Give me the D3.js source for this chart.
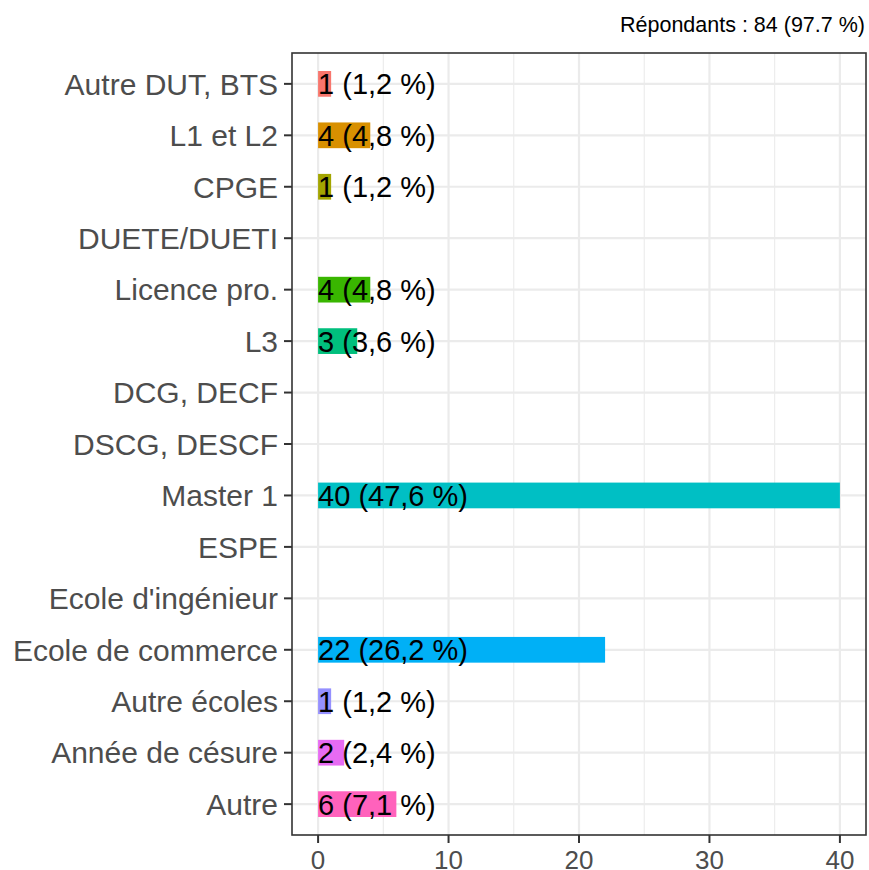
<!DOCTYPE html>
<html>
<head>
<meta charset="utf-8">
<script src="https://cdn.jsdelivr.net/npm/d3@7"></script>
<style>
  html, body { margin: 0; padding: 0; background: #ffffff; }
  svg { display: block; }
</style>
</head>
<body>
<svg id="chart" width="869" height="870"></svg>
<script>
// ---- data ----
const categories = ["Autre DUT, BTS", "L1 et L2", "CPGE", "DUETE/DUETI", "Licence pro.", "L3",
  "DCG, DECF", "DSCG, DESCF", "Master 1", "ESPE", "Ecole d'ingénieur", "Ecole de commerce",
  "Autre écoles", "Année de césure", "Autre"];
const counts = [1, 4, 1, 0, 4, 3, 0, 0, 40, 0, 0, 22, 1, 2, 6];
const totalRespondents = 84;
const respondentShare = "97.7";
const barColors = ["#F8766D", "#D89000", "#A3A500", "#39B600", "#00BF7D", "#00BFC4",
  "#00B0F6", "#9590FF", "#E76BF3", "#FF62BC"];
const xTicks = [0, 10, 20, 30, 40];
const xMinorTicks = [5, 15, 25, 35];

// ---- layout ----
const svg = d3.select("#chart");
const panel = { left: 292, right: 866, top: 53, bottom: 835 };
const FONT = "Liberation Sans, Arial, sans-serif";

const x = d3.scaleLinear().domain([-2, 42]).range([panel.left, panel.right]);
// discrete axis with ggplot-like expansion (0.6 unit each side)
const y = d3.scalePoint().domain(categories)
  .range([panel.top, panel.bottom]).padding(0.6);
const step = y.step();
const barH = step * 0.5;

// colour for non-zero categories in order
const nonZero = categories.filter((c, i) => counts[i] > 0);
const color = d3.scaleOrdinal().domain(nonZero).range(barColors);

const fmtPct = v => (Math.round(v * 1000) / 10).toFixed(1).replace(".", ",");

// ---- panel background & grid ----
svg.append("rect").attr("x", panel.left).attr("y", panel.top)
  .attr("width", panel.right - panel.left).attr("height", panel.bottom - panel.top)
  .attr("fill", "#ffffff");

const grid = svg.append("g");
grid.selectAll("line.minor").data(xMinorTicks).join("line")
  .attr("x1", d => x(d)).attr("x2", d => x(d))
  .attr("y1", panel.top).attr("y2", panel.bottom)
  .attr("stroke", "#EBEBEB").attr("stroke-width", 1.1);
grid.selectAll("line.majx").data(xTicks).join("line")
  .attr("x1", d => x(d)).attr("x2", d => x(d))
  .attr("y1", panel.top).attr("y2", panel.bottom)
  .attr("stroke", "#EBEBEB").attr("stroke-width", 2.2);
grid.selectAll("line.majy").data(categories).join("line")
  .attr("x1", panel.left).attr("x2", panel.right)
  .attr("y1", d => y(d)).attr("y2", d => y(d))
  .attr("stroke", "#EBEBEB").attr("stroke-width", 2.2);

// ---- bars ----
const rows = categories.map((c, i) => ({ cat: c, n: counts[i] }));
svg.append("g").selectAll("rect").data(rows.filter(r => r.n > 0)).join("rect")
  .attr("x", x(0))
  .attr("y", d => y(d.cat) - barH / 2)
  .attr("width", d => x(d.n) - x(0))
  .attr("height", barH)
  .attr("fill", d => color(d.cat));

// ---- bar labels ----
svg.append("g").selectAll("text").data(rows.filter(r => r.n > 0)).join("text")
  .attr("x", x(0))
  .attr("y", d => y(d.cat))
  .attr("dy", "0.36em")
  .attr("font-family", FONT)
  .attr("font-size", 29)
  .attr("fill", "#000000")
  .text(d => `${d.n} (${fmtPct(d.n / totalRespondents)} %)`);

// ---- panel border ----
svg.append("rect").attr("x", panel.left).attr("y", panel.top)
  .attr("width", panel.right - panel.left).attr("height", panel.bottom - panel.top)
  .attr("fill", "none").attr("stroke", "#333333").attr("stroke-width", 1.6);

// ---- y axis ----
const yAxis = svg.append("g");
yAxis.selectAll("line").data(categories).join("line")
  .attr("x1", panel.left - 8).attr("x2", panel.left)
  .attr("y1", d => y(d)).attr("y2", d => y(d))
  .attr("stroke", "#333333").attr("stroke-width", 2);
yAxis.selectAll("text").data(categories).join("text")
  .attr("x", panel.left - 14)
  .attr("y", d => y(d))
  .attr("dy", "0.36em")
  .attr("text-anchor", "end")
  .attr("font-family", FONT)
  .attr("font-size", 30)
  .attr("fill", "#4D4D4D")
  .text(d => d);

// ---- x axis ----
const xAxis = svg.append("g");
xAxis.selectAll("line").data(xTicks).join("line")
  .attr("x1", d => x(d)).attr("x2", d => x(d))
  .attr("y1", panel.bottom).attr("y2", panel.bottom + 8)
  .attr("stroke", "#333333").attr("stroke-width", 2);
xAxis.selectAll("text").data(xTicks).join("text")
  .attr("x", d => x(d))
  .attr("y", panel.bottom + 34)
  .attr("text-anchor", "middle")
  .attr("font-family", FONT)
  .attr("font-size", 26)
  .attr("fill", "#4D4D4D")
  .text(d => d);

// ---- caption ----
svg.append("text")
  .attr("x", 865).attr("y", 32)
  .attr("text-anchor", "end")
  .attr("font-family", FONT)
  .attr("font-size", 21.5)
  .attr("fill", "#000000")
  .text(`Répondants : ${totalRespondents} (${respondentShare} %)`);
</script>
</body>
</html>
